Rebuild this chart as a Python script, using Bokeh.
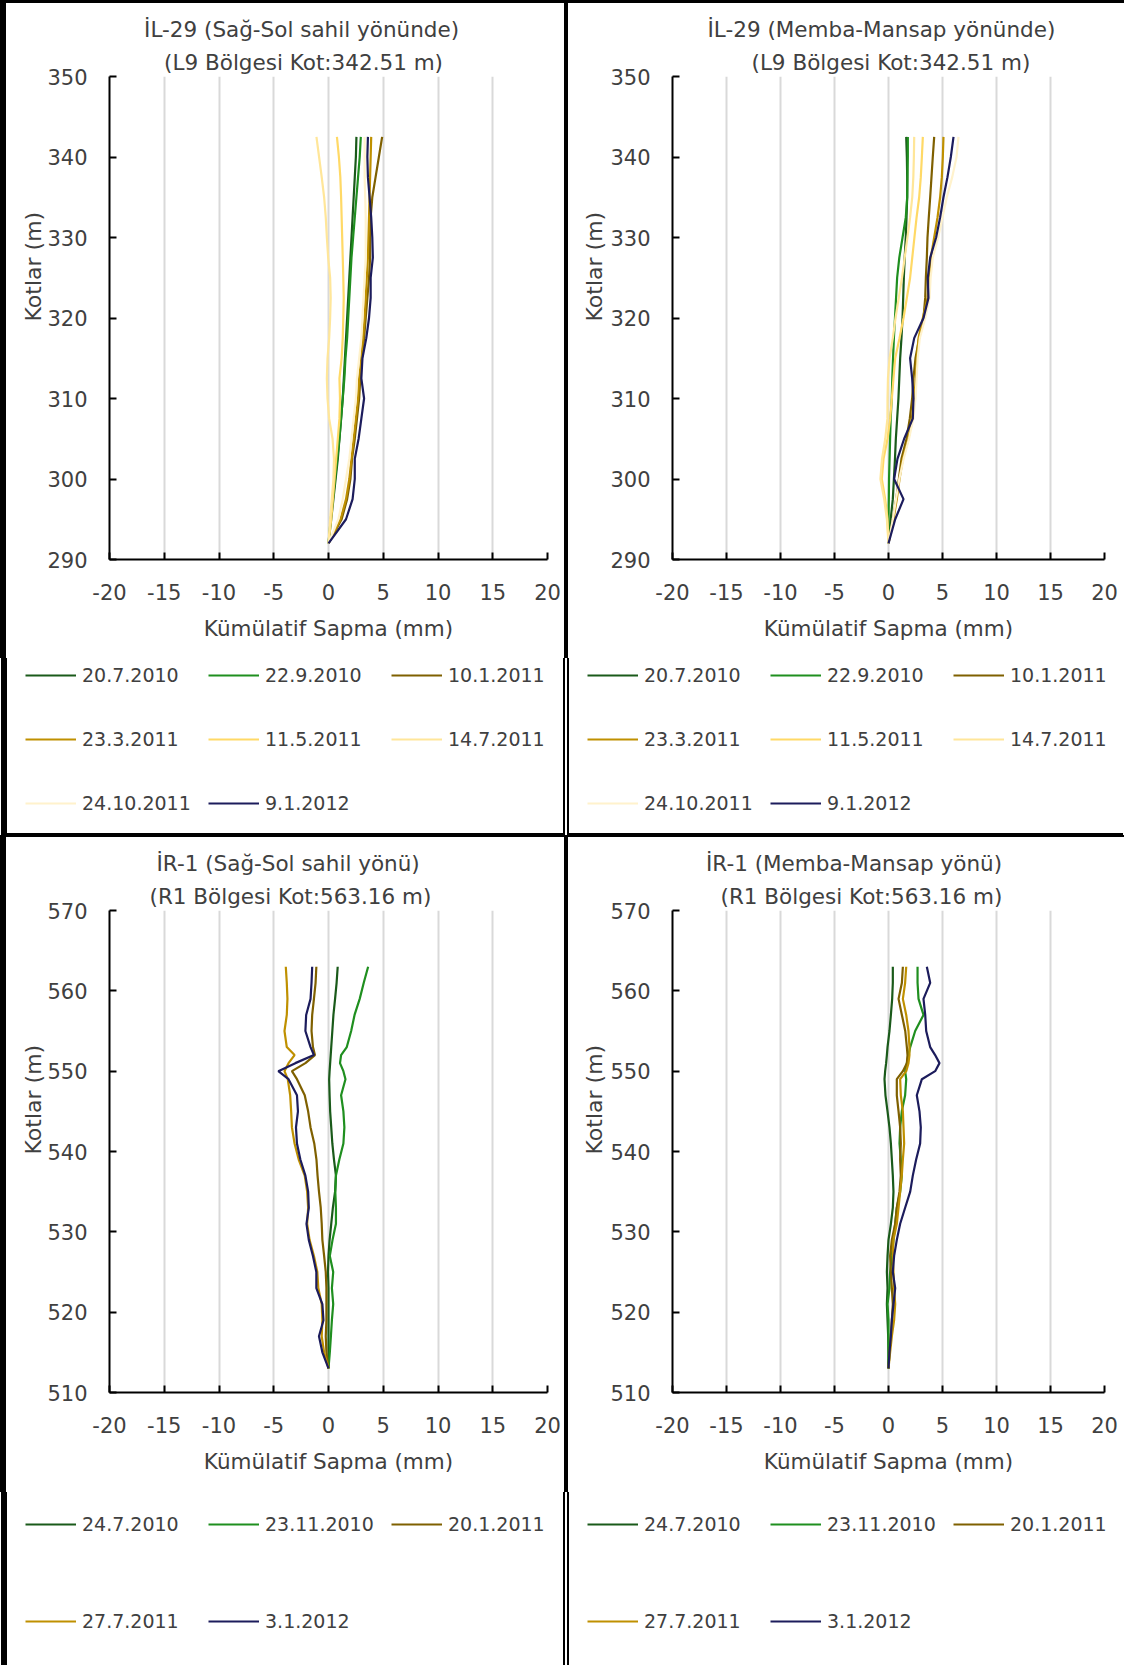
from bokeh.plotting import figure
from bokeh.models import Range1d, FixedTicker, Title, Legend, LegendItem, PrintfTickFormatter
from bokeh.layouts import column, row
from bokeh.embed import file_html
from bokeh.resources import INLINE

FONT = "DejaVu Sans"
TEXT = "#404040"

# ---------------- tick labels ----------------
X_TICKS = [-20, -15, -10, -5, 0, 5, 10, 15, 20]
Y_TICKS_IL29 = [290, 300, 310, 320, 330, 340, 350]
Y_TICKS_IR1 = [510, 520, 530, 540, 550, 560, 570]

# ---------------- İL-29 (elevations, m) ----------------
ELEV_IL29 = [342.5, 340, 337.5, 335, 332.5, 330, 327.5, 325, 322.5, 320, 317.5,
             315, 312.5, 310, 307.5, 305, 302.5, 300, 297.5, 295, 292]
DATES_IL29 = ["20.7.2010", "22.9.2010", "10.1.2011", "23.3.2011",
              "11.5.2011", "14.7.2011", "24.10.2011", "9.1.2012"]

# Sağ-Sol sahil yönünde (mm)
IL29_SS_20_7_2010 = [2.55, 2.5, 2.4, 2.3, 2.2, 2.1, 2.0, 1.9, 1.8, 1.7, 1.6, 1.5, 1.4, 1.3, 1.15, 1.0, 0.85, 0.65, 0.45, 0.25, 0]
IL29_SS_22_9_2010 = [2.95, 2.85, 2.7, 2.55, 2.4, 2.25, 2.1, 2.0, 1.9, 1.8, 1.7, 1.55, 1.45, 1.3, 1.15, 1.0, 0.8, 0.6, 0.4, 0.2, 0]
IL29_SS_10_1_2011 = [4.9, 4.6, 4.3, 4.0, 3.85, 3.8, 3.8, 3.7, 3.55, 3.4, 3.25, 3.05, 2.9, 2.8, 2.6, 2.4, 2.15, 2.0, 1.7, 1.2, 0]
IL29_SS_23_3_2011 = [3.9, 3.85, 3.8, 3.75, 3.7, 3.65, 3.6, 3.5, 3.4, 3.3, 3.15, 3.0, 2.8, 2.7, 2.5, 2.3, 2.1, 1.9, 1.6, 1.1, 0]
IL29_SS_11_5_2011 = [0.77, 0.95, 1.08, 1.15, 1.2, 1.25, 1.3, 1.35, 1.39, 1.35, 1.3, 1.2, 1.0, 1.05, 1.0, 0.85, 0.7, 0.55, 0.4, 0.25, 0]
IL29_SS_14_7_2011 = [-1.1, -0.86, -0.62, -0.4, -0.25, -0.15, -0.03, 0.15, 0.2, 0.15, 0.06, -0.09, -0.15, -0.09, 0.06, 0.37, 0.5, 0.45, 0.3, 0.15, 0]
IL29_SS_24_10_2011 = [3.3, 3.3, 3.3, 3.35, 3.4, 3.4, 3.4, 3.3, 3.2, 3.1, 3.0, 2.8, 2.6, 2.5, 2.3, 2.1, 1.9, 1.6, 1.3, 0.9, 0]
IL29_SS_9_1_2012 = [3.6, 3.55, 3.6, 3.75, 3.9, 4.0, 4.05, 3.85, 3.85, 3.7, 3.45, 3.1, 3.0, 3.25, 3.0, 2.75, 2.4, 2.4, 2.2, 1.6, 0]

# Memba-Mansap yönünde (mm)
IL29_MM_20_7_2010 = [1.64, 1.7, 1.73, 1.73, 1.67, 1.6, 1.5, 1.42, 1.36, 1.3, 1.2, 1.08, 1.0, 0.92, 0.8, 0.68, 0.6, 0.5, 0.4, 0.2, 0]
IL29_MM_22_9_2010 = [1.79, 1.79, 1.76, 1.73, 1.6, 1.3, 1.0, 0.8, 0.7, 0.6, 0.5, 0.42, 0.35, 0.3, 0.2, 0.15, 0.1, 0.05, 0.03, 0.0, 0]
IL29_MM_10_1_2011 = [4.23, 4.1, 3.98, 3.86, 3.73, 3.61, 3.55, 3.46, 3.4, 3.24, 2.84, 2.5, 2.31, 2.19, 1.97, 1.67, 1.2, 0.96, 0.71, 0.4, 0]
IL29_MM_23_3_2011 = [5.09, 5.03, 4.94, 4.78, 4.54, 4.23, 3.92, 3.8, 3.61, 3.18, 2.78, 2.62, 2.53, 2.38, 2.16, 1.85, 1.33, 1.02, 0.77, 0.46, 0]
IL29_MM_11_5_2011 = [3.18, 3.09, 2.99, 2.84, 2.6, 2.4, 2.2, 2.0, 1.7, 1.39, 1.02, 0.62, 0.46, 0.31, 0.15, -0.09, -0.46, -0.62, -0.31, -0.09, 0]
IL29_MM_14_7_2011 = [2.38, 2.35, 2.3, 2.2, 2.0, 1.75, 1.5, 1.25, 0.95, 0.65, 0.4, 0.1, -0.05, -0.09, -0.1, -0.3, -0.6, -0.75, -0.4, -0.15, 0]
IL29_MM_24_10_2011 = [6.48, 6.3, 5.9, 5.4, 5.0, 4.6, 4.1, 3.9, 3.8, 3.4, 2.9, 2.7, 2.6, 2.5, 2.3, 1.9, 1.4, 1.0, 0.7, 0.4, 0]
IL29_MM_9_1_2012 = [6.02, 5.77, 5.46, 5.09, 4.78, 4.41, 3.86, 3.64, 3.7, 3.24, 2.38, 2.0, 2.19, 2.31, 2.25, 1.45, 0.83, 0.52, 1.39, 0.62, 0]

# ---------------- İR-1 (elevations, m) ----------------
ELEV_IR1 = [563, 561, 559, 557, 555, 553, 552, 551, 550, 549, 547, 545, 543, 541,
            539, 537, 535, 533, 531, 529, 527, 525, 523, 521, 519, 517, 515, 513]
DATES_IR1 = ["24.7.2010", "23.11.2010", "20.1.2011", "27.7.2011", "3.1.2012"]

# Sağ-Sol sahil yönü (mm)
IR1_SS_24_7_2010 = [0.84, 0.74, 0.6, 0.45, 0.35, 0.25, 0.2, 0.15, 0.1, 0.06, 0.1, 0.15, 0.25, 0.35, 0.5, 0.68, 0.6, 0.4, 0.25, 0.1, 0.0, -0.05, 0.0, 0.0, 0.0, 0.0, 0.0, 0]
IR1_SS_23_11_2010 = [3.62, 3.22, 2.85, 2.38, 2.07, 1.67, 1.15, 1.05, 1.36, 1.55, 1.15, 1.36, 1.45, 1.36, 0.99, 0.68, 0.62, 0.68, 0.68, 0.37, 0.12, 0.43, 0.31, 0.43, 0.31, 0.22, 0.12, 0]
IR1_SS_20_1_2011 = [-1.11, -1.18, -1.33, -1.49, -1.55, -1.42, -1.24, -2.11, -3.34, -2.88, -2.17, -1.86, -1.64, -1.3, -1.1, -1.0, -0.87, -0.71, -0.62, -0.56, -0.4, -0.25, -0.19, -0.19, -0.19, -0.25, -0.19, 0]
IR1_SS_27_7_2011 = [-3.9, -3.81, -3.75, -3.81, -4.02, -3.81, -3.1, -3.65, -4.02, -3.72, -3.5, -3.41, -3.34, -3.1, -2.72, -2.17, -1.95, -1.86, -1.95, -1.73, -1.33, -1.02, -0.93, -0.62, -0.56, -0.62, -0.4, 0]
IR1_SS_3_1_2012 = [-1.49, -1.55, -1.64, -2.04, -2.11, -1.64, -1.33, -3.03, -4.58, -3.65, -2.88, -2.79, -2.97, -2.88, -2.57, -2.11, -1.86, -1.8, -2.01, -1.8, -1.42, -1.11, -1.11, -0.56, -0.46, -0.87, -0.56, 0]

# Memba-Mansap yönü (mm)
IR1_MM_24_7_2010 = [0.4, 0.4, 0.34, 0.22, 0.09, -0.09, -0.15, -0.22, -0.31, -0.37, -0.28, -0.09, 0.09, 0.22, 0.31, 0.4, 0.46, 0.4, 0.22, 0.0, -0.09, -0.15, -0.09, -0.15, -0.09, -0.03, 0.0, 0]
IR1_MM_23_11_2010 = [2.69, 2.69, 2.78, 3.24, 2.47, 2.01, 1.85, 1.7, 1.54, 1.64, 1.54, 1.23, 1.08, 1.02, 1.14, 1.23, 1.08, 0.77, 0.62, 0.46, 0.31, 0.15, 0.09, -0.09, 0.0, 0.0, 0.0, 0]
IR1_MM_20_1_2011 = [1.33, 1.24, 0.93, 1.24, 1.55, 1.7, 1.76, 1.7, 1.33, 0.77, 0.77, 0.93, 1.08, 1.14, 1.08, 1.14, 1.02, 0.77, 0.62, 0.31, 0.15, 0.22, 0.31, 0.4, 0.31, 0.22, 0.09, 0]
IR1_MM_27_7_2011 = [1.64, 1.54, 1.33, 1.64, 1.85, 1.94, 1.94, 1.85, 1.64, 1.08, 1.14, 1.33, 1.39, 1.45, 1.33, 1.23, 1.08, 0.93, 0.77, 0.46, 0.4, 0.46, 0.52, 0.62, 0.52, 0.31, 0.15, 0]
IR1_MM_3_1_2012 = [3.55, 3.86, 3.24, 3.4, 3.49, 3.86, 4.32, 4.72, 4.32, 3.09, 2.62, 2.87, 2.99, 2.93, 2.56, 2.25, 2.01, 1.54, 1.08, 0.77, 0.52, 0.4, 0.62, 0.46, 0.31, 0.22, 0.09, 0]

# ---------------- styles ----------------
COLORS_IL29 = ["#1a5a1a", "#1f8f1f", "#7f6000", "#bf9000", "#ffd966", "#ffe699", "#fff2cc", "#1c1c5c"]
COLORS_IR1 = ["#1a5a1a", "#1f8f1f", "#7f6000", "#bf9000", "#1c1c5c"]

ITEM_H = 24


def border_style(t, r, b, l, ml=0, mr=0):
    return {"border-style": "solid", "border-color": "black",
            "border-width": f"{t}px {r}px {b}px {l}px", "box-sizing": "content-box",
            "margin-left": f"{ml}px", "margin-right": f"{mr}px"}


def make_plot(titles, elev, series, colors, y_range, y_ticks,
              width, height, left, right, top, bottom, border,
              title_offsets, ylabel_standoff):
    p = figure(width=width, height=height, x_range=Range1d(-20, 20), y_range=Range1d(*y_range),
               toolbar_location=None, output_backend="svg",
               min_border_left=left, min_border_right=right,
               min_border_top=top, min_border_bottom=bottom)
    p.outline_line_color = None
    p.background_fill_color = "white"
    p.border_fill_color = "white"
    p.styles = border_style(*border)

    p.xgrid.grid_line_color = "#d9d9d9"
    p.xgrid.grid_line_width = 2
    p.ygrid.visible = False

    p.xaxis.ticker = FixedTicker(ticks=X_TICKS)
    p.yaxis.ticker = FixedTicker(ticks=y_ticks)
    for ax in (p.xaxis, p.yaxis):
        ax.formatter = PrintfTickFormatter(format="%d")
        ax.axis_line_color = "black"
        ax.axis_line_width = 2
        ax.major_tick_line_color = "black"
        ax.major_tick_line_width = 2
        ax.major_tick_in = 7
        ax.major_tick_out = 0
        ax.minor_tick_line_color = None
        ax.major_label_text_font = FONT
        ax.major_label_text_font_size = "21px"
        ax.major_label_text_color = TEXT
    p.xaxis.major_label_standoff = 24
    p.yaxis.major_label_standoff = 22
    p.xaxis.axis_label = "Kümülatif Sapma (mm)"
    p.xaxis.axis_label_text_font = FONT
    p.xaxis.axis_label_text_font_size = "21.5px"
    p.xaxis.axis_label_text_font_style = "normal"
    p.xaxis.axis_label_text_color = TEXT
    p.xaxis.axis_label_standoff = 13

    for xs, c in zip(series, colors):
        p.line(xs, elev, line_color=c, line_width=2.2)

    # two-line title (closest line added first)
    p.add_layout(Title(text=titles[1], align="left", offset=title_offsets[1], standoff=4,
                       text_font=FONT, text_font_size="21.5px", text_font_style="normal",
                       text_color=TEXT), "above")
    p.add_layout(Title(text=titles[0], align="left", offset=title_offsets[0], standoff=8,
                       text_font=FONT, text_font_size="21.5px", text_font_style="normal",
                       text_color=TEXT), "above")
    # y-axis title
    p.add_layout(Title(text="Kotlar (m)", align="left", offset=238, standoff=ylabel_standoff,
                       text_font=FONT, text_font_size="22px", text_font_style="normal",
                       text_color=TEXT), "left")
    return p


def make_legend(elev, series, dates, colors, width, height, border, vx, row_centers):
    lf = figure(width=width, height=height, x_range=Range1d(0, 1), y_range=Range1d(0, 1),
                x_axis_type=None, y_axis_type=None, toolbar_location=None, output_backend="svg",
                min_border=0, min_border_left=0, min_border_right=0,
                min_border_top=0, min_border_bottom=0)
    lf.outline_line_color = None
    lf.border_fill_color = "white"
    lf.background_fill_color = "white"
    lf.styles = border_style(*border)
    # same series, outside this strip's ranges: only their legend keys are seen
    renderers = [lf.line(xs, elev, line_color=c, line_width=2.2) for xs, c in zip(series, colors)]
    for r, yc in enumerate(row_centers):
        idx = list(range(3 * r, min(3 * r + 3, len(dates))))
        items = [LegendItem(label=dates[i], renderers=[renderers[i]]) for i in idx]
        vy = height - (yc + ITEM_H / 2)
        leg = Legend(items=items, location=(vx, vy), orientation="horizontal",
                     spacing=0, padding=0, margin=0,
                     glyph_width=51, glyph_height=ITEM_H, label_height=ITEM_H, label_width=126,
                     label_standoff=6, label_text_font=FONT, label_text_font_size="19px",
                     label_text_color=TEXT, border_line_alpha=0, background_fill_alpha=0)
        lf.add_layout(leg)
    return lf


SS29 = [IL29_SS_20_7_2010, IL29_SS_22_9_2010, IL29_SS_10_1_2011, IL29_SS_23_3_2011,
        IL29_SS_11_5_2011, IL29_SS_14_7_2011, IL29_SS_24_10_2011, IL29_SS_9_1_2012]
MM29 = [IL29_MM_20_7_2010, IL29_MM_22_9_2010, IL29_MM_10_1_2011, IL29_MM_23_3_2011,
        IL29_MM_11_5_2011, IL29_MM_14_7_2011, IL29_MM_24_10_2011, IL29_MM_9_1_2012]
SS1 = [IR1_SS_24_7_2010, IR1_SS_23_11_2010, IR1_SS_20_1_2011, IR1_SS_27_7_2011, IR1_SS_3_1_2012]
MM1 = [IR1_MM_24_7_2010, IR1_MM_23_11_2010, IR1_MM_20_1_2011, IR1_MM_27_7_2011, IR1_MM_3_1_2012]

MAIN_H = 655

p1 = make_plot(["İL-29 (Sağ-Sol sahil yönünde)", "(L9 Bölgesi Kot:342.51 m)"], ELEV_IL29, SS29,
               COLORS_IL29, (290, 350), Y_TICKS_IL29, 558, MAIN_H, 103, 25, 73, 102, (3, 2, 0, 6),
               (34.6, 54.6), -2)
l1 = make_legend(ELEV_IL29, SS29, DATES_IL29, COLORS_IL29, 556, 175, (0, 2, 2, 6, 1, 1), 18,
                 [15, 78.5, 143])

p2 = make_plot(["İL-29 (Memba-Mansap yönünde)", "(L9 Bölgesi Kot:342.51 m)"], ELEV_IL29, MM29,
               COLORS_IL29, (290, 350), Y_TICKS_IL29, 556, MAIN_H, 104, 22, 73, 102, (3, 0, 0, 2),
               (35, 79), 2)
l2 = make_legend(ELEV_IL29, MM29, DATES_IL29, COLORS_IL29, 554, 175, (0, 0, 2, 2, 1, 1), 18,
                 [15, 78.5, 143])

p3 = make_plot(["İR-1 (Sağ-Sol sahil yönü)", "(R1 Bölgesi Kot:563.16 m)"], ELEV_IR1, SS1,
               COLORS_IR1, (510, 570), Y_TICKS_IR1, 558, MAIN_H, 103, 25, 73, 102, (2, 2, 0, 6),
               (47, 40), -2)
l3 = make_legend(ELEV_IR1, SS1, DATES_IR1, COLORS_IR1, 556, 173, (0, 2, 0, 6, 1, 1), 18,
                 [32, 128.5])

p4 = make_plot(["İR-1 (Memba-Mansap yönü)", "(R1 Bölgesi Kot:563.16 m)"], ELEV_IR1, MM1,
               COLORS_IR1, (510, 570), Y_TICKS_IR1, 556, MAIN_H, 104, 22, 73, 102, (2, 0, 0, 2),
               (33.5, 48), 2)
l4 = make_legend(ELEV_IR1, MM1, DATES_IR1, COLORS_IR1, 554, 173, (0, 0, 0, 2, 1, 1), 18,
                 [32, 128.5])

layout = column(row(column(p1, row(l1)), column(p2, row(l2))),
                row(column(p3, row(l3)), column(p4, row(l4))))

open("out.html", "w").write(file_html(layout, INLINE))
